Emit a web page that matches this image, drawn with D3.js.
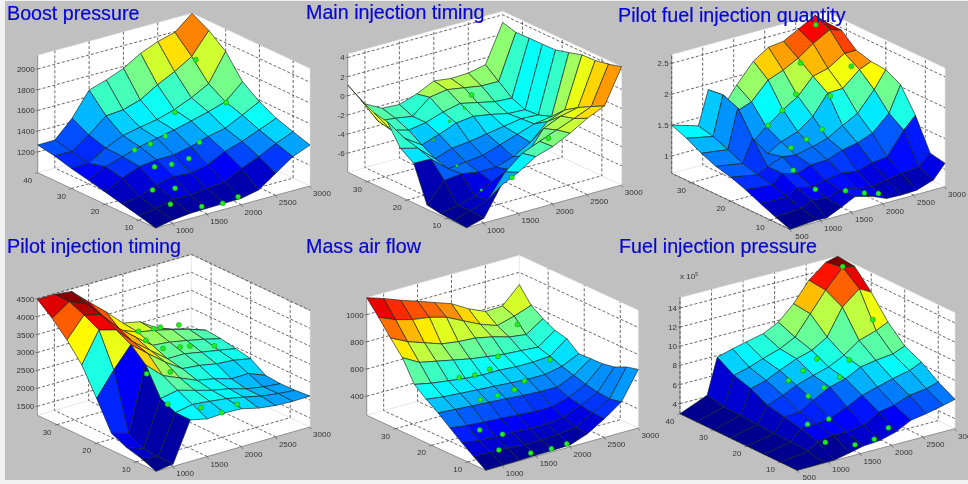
<!DOCTYPE html>
<html>
<head>
<meta charset="utf-8">
<style>
  html, body { margin: 0; padding: 0; background: #f2f2f2; }
  svg { display: block; filter: blur(0.3px); }
  text { font-family: "Liberation Sans", Arial, sans-serif; }
  .title { font-size: 19.7px; fill: #0606d2; stroke: #0606d2; stroke-width: 0.2; }
  .tick-label { font-size: 8px; fill: #333333; }
</style>
<script src="https://cdn.jsdelivr.net/npm/d3@7"></script>
</head>
<body>
<svg id="chart"></svg>
<script>
const WIDTH = 968;
const HEIGHT = 484;

const rpmFrom750 = [750, 1000, 1250, 1500, 1750, 2000, 2250, 2500, 2750, 3000];
const rpmFrom500 = [500, 930, 1090, 1333, 1548, 1817, 2059, 2301, 2543, 2812, 3000];
const load8 = [5, 10, 15, 20, 25, 30, 35, 40];
const load9 = [5, 8.75, 12.5, 16.25, 20, 23.75, 27.5, 31.25, 35];
const load10 = [5, 8.33, 11.67, 15, 18.33, 21.67, 25, 28.33, 31.67, 35];
const load11 = [5, 8.3, 11.6, 14.9, 18.2, 21.5, 24.8, 28.1, 31.4, 34.7, 38];

const rpmTicks = [1000, 1500, 2000, 2500, 3000];
const rpmTicksFrom500 = [500, 1000, 1500, 2000, 2500, 3000];
const loadTicks40 = [10, 20, 30, 40];
const loadTicks30 = [10, 20, 30];

// rows go from low load to high load, columns from low rpm to high rpm
const boostPressure = [
  [1000, 1032, 1051, 1055, 1058, 1061, 1096, 1212, 1328, 1395],
  [1042, 1068, 1109, 1106, 1125, 1145, 1228, 1296, 1379, 1447],
  [1080, 1106, 1172, 1209, 1196, 1231, 1315, 1367, 1434, 1502],
  [1119, 1206, 1273, 1293, 1296, 1331, 1383, 1418, 1500, 1585],
  [1157, 1241, 1293, 1344, 1380, 1415, 1457, 1500, 1553, 1700],
  [1193, 1197, 1300, 1375, 1410, 1440, 1490, 1560, 1650, 1916],
  [1238, 1235, 1350, 1489, 1502, 1553, 1653, 1736, 1836, 2042],
  [1267, 1270, 1434, 1662, 1714, 1781, 1881, 1949, 1994, 2132]
];

const mainTiming = [
  [-8, -7.5, -4.6, -3.7, -2.56, -2, -1.1, -0.04, 0.76, 4.37],
  [-7.9, -7.36, -6.74, -4.3, -2.85, -2.1, -1.4, -0.7, 0.05, 3.98],
  [-7.8, -7.5, -7, -6, -5.2, -4.2, -1.9, -1.1, -0.7, 3.72],
  [-7.57, -5.5, -5.3, -5.6, -5.6, -5, -4, -2.3, -1.6, 3.67],
  [-3.85, -3.9, -5.4, -5.2, -5, -4.4, -3.8, -3.2, -2.92, 3.27],
  [-2.93, -3.4, -5, -4.4, -4.2, -3.9, -3.6, -3.3, -3.4, 2.9],
  [-0.8, -3, -4.2, -3.6, -2.9, -2.7, -3, -3.4, -3.5, 2.86],
  [-0.5, -2.8, -3.3, -3, -2.4, -2, -2.4, -2.8, -2.93, 2.85],
  [0.2, -2.5, -2.7, -3, -1.5, -1.2, -1.5, -1.8, -1.83, 2.8],
  [1.13, -1.34, -2.3, -2.4, -1.8, -0.93, -1.17, -1.1, -0.73, 3.2]
];

const pilotQuantity = [
  [0.72, 0.75, 0.74, 0.85, 0.96, 0.89, 0.79, 0.78, 0.79, 0.88, 1.1],
  [0.81, 0.83, 0.92, 0.88, 0.95, 0.91, 0.87, 0.91, 0.95, 0.98, 1.15],
  [0.91, 0.9, 1, 0.95, 1, 1.04, 1, 1.07, 1.1, 1.46, 1.65],
  [1.02, 0.98, 1.12, 1.05, 1.13, 1.14, 1.23, 1.28, 1.37, 1.62, 2.03],
  [1.11, 1.03, 1.12, 1.21, 1.18, 1.24, 1.31, 1.45, 1.58, 1.89, 2.16],
  [1.17, 1.1, 1.46, 1.15, 1.28, 1.37, 1.55, 1.86, 1.87, 2.1, 2.18],
  [1.27, 1.21, 1.84, 1.22, 1.41, 1.61, 1.76, 2.02, 2.08, 2.25, 2.25],
  [1.4, 1.31, 1.94, 1.62, 1.7, 1.98, 2.07, 2.2, 2.37, 2.52, 2.46],
  [1.5, 1.37, 1.91, 1.57, 1.86, 2.17, 2.33, 2.36, 2.49, 2.64, 2.47]
];

const pilotTiming = [
  [1250, 1315, 2405, 2299, 2325, 2308, 2188, 2123, 2104, 2113],
  [1417, 1324, 2414, 2504, 2455, 2392, 2299, 2188, 2123, 2076],
  [1528, 1361, 2609, 2704, 2566, 2429, 2336, 2197, 2114, 2067],
  [1724, 1584, 3352, 2920, 2716, 2513, 2420, 2281, 2290, 2104],
  [2500, 3153, 3723, 3335, 2965, 2643, 2596, 2503, 2466, 2373],
  [3237, 4073, 3940, 3467, 3096, 2726, 2726, 2633, 2550, 2457],
  [3738, 4295, 4169, 3660, 3271, 2903, 2856, 2763, 2661, 2540],
  [4147, 4472, 4279, 3772, 3262, 3079, 2986, 2875, 2745, 2578],
  [4481, 4481, 4427, 4000, 3590, 3135, 3033, 2720, 2550, 2410]
];

const massAirFlow = [
  [260, 262, 265, 268, 270, 275, 321, 397, 485, 691],
  [320, 320, 312, 303, 303, 312, 329, 400, 468, 668],
  [381, 364, 355, 355, 347, 347, 364, 415, 476, 628],
  [450, 433, 424, 416, 407, 398, 398, 433, 494, 611],
  [520, 511, 502, 494, 485, 476, 468, 468, 520, 608],
  [580, 563, 554, 545, 537, 528, 520, 520, 545, 604],
  [649, 623, 606, 589, 580, 580, 571, 571, 580, 674],
  [805, 736, 710, 684, 658, 640, 623, 615, 606, 695],
  [909, 848, 805, 762, 744, 736, 710, 675, 658, 740],
  [1021, 969, 935, 917, 883, 822, 762, 718, 753, 798],
  [1125, 1084, 1037, 995, 951, 908, 836, 782, 787, 910]
];

const fuelPressure = [
  [2.95, 3, 3, 3.33, 3.67, 3.79, 4.24, 5.04, 5.31, 5.71, 6.02],
  [2.95, 3.34, 4.03, 4.31, 4.29, 4.52, 5.48, 5.76, 6.38, 6.61, 6.98],
  [2.95, 3.47, 4.58, 4.68, 4.83, 5.58, 6.38, 6.83, 7.28, 7.67, 8.22],
  [2.95, 3.5, 4.95, 5.05, 5.91, 6.82, 7.27, 8.07, 8.35, 8.55, 9.05],
  [2.95, 3.59, 5.32, 5.95, 6.62, 7.2, 7.65, 8.45, 9.58, 10.15, 10.72],
  [2.95, 3.72, 6.23, 6.67, 7.34, 8.09, 8.54, 9.52, 12.22, 13.67, 13],
  [2.95, 3.75, 6.77, 7.2, 7.72, 8.29, 9.08, 11.1, 13.15, 15.07, 14.87],
  [2.95, 4.12, 7.83, 8.28, 8.62, 9.02, 9.81, 11.31, 13.35, 14.76, 15.07]
];

// measured operating points, the same sixteen in every plot
const pointRpm = [1510, 1815, 2040, 1210, 1450, 1220, 1470, 1720, 1970, 1450, 1680, 1900, 2200, 2260, 2760, 2760];
const pointLoad = [6.8, 6.8, 6.8, 10, 13.5, 15.5, 20, 20, 20, 25.5, 25.5, 25.5, 21.5, 30, 25, 34];

// null: the point is hidden behind the surface
const boostPoints = [1042, 1019, 1042, 1071, 1129, 1122, 1232, 1212, 1222, 1315, 1331, 1367, 1315, 1463, 1543, 1820];
const mainPoints = [-4.6, null, -1.55, null, -7.1, null, -5.84, null, null, -4.17, -2.7, -1.73, null, -1.94, null, null];
const quantityPoints = [1.01, 0.89, 0.82, null, 0.85, 1.16, 1.32, 1.39, 1.48, 1.52, 1.7, 1.9, 1.91, 2.17, 2.13, 2.53];
const timingPoints = [2513, 2206, 2318, 2606, 3191, 3163, 3720, 3358, 3265, null, 3571, 3525, 3088, 3135, 2606, 2717];
const airPoints = [260, 250, 255, 285, 324, 363, 495, 493, 500, 592, 581, 593, 514, 583, 549, 699];
const fuelPoints = [3.57, 3.61, 4.41, 3.79, 5.22, 4.73, 6.49, 6.95, 7.6, 7.23, 7.84, 8.71, 8.73, null, 11.38, 15.42];

const panels = [
  {
    title: "Boost pressure", titleAt: [7, 20],
    left: [37.7, 172.7], front: [155.7, 228], right: [310, 186], pxPerUnit: 0.1037,
    rpm: rpmFrom750, load: load8, values: boostPressure, points: boostPoints,
    xDomain: [750, 3000], yDomain: [5, 40], zDomain: [1000, 2132], colourDomain: [1030, 2132],
    xTicks: rpmTicks, yTicks: loadTicks40, zTicks: [1200, 1400, 1600, 1800, 2000]
  },
  {
    title: "Main injection timing", titleAt: [306, 19],
    left: [347.7, 172.3], front: [466.7, 227.7], right: [621.7, 185], pxPerUnit: 9.567,
    rpm: rpmFrom750, load: load10, values: mainTiming, points: mainPoints,
    xDomain: [750, 3000], yDomain: [5, 35], zDomain: [-8, 4.37],
    xTicks: rpmTicks, yTicks: loadTicks30, zTicks: [-6, -4, -2, 0, 2, 4], smallPoints: [4, 6, 9, 10, 11]
  },
  {
    title: "Pilot fuel injection quantity", titleAt: [618, 22],
    left: [671.7, 173.3], front: [790, 229.3], right: [945, 186.7], pxPerUnit: 61.77,
    rpm: rpmFrom500, load: load9, values: pilotQuantity, points: quantityPoints,
    xDomain: [500, 3000], yDomain: [5, 35], zDomain: [0.72, 2.64],
    xTicks: rpmTicksFrom500, yTicks: loadTicks30, zTicks: [1, 1.5, 2, 2.5]
  },
  {
    title: "Pilot injection timing", titleAt: [7, 253],
    left: [37.3, 415.3], front: [156, 471.3], right: [310, 427], pxPerUnit: 0.0359,
    rpm: rpmFrom750, load: load9, values: pilotTiming, points: timingPoints,
    xDomain: [750, 3000], yDomain: [5, 35], zDomain: [1250, 4481],
    xTicks: rpmTicks, yTicks: loadTicks30, zTicks: [1500, 2000, 2500, 3000, 3500, 4000, 4500]
  },
  {
    title: "Mass air flow", titleAt: [306, 253],
    left: [366.7, 415.3], front: [485.7, 470.3], right: [638.3, 428], pxPerUnit: 0.136,
    rpm: rpmFrom750, load: load11, values: massAirFlow, points: airPoints,
    xDomain: [750, 3000], yDomain: [5, 38], zDomain: [260, 1125],
    xTicks: rpmTicks, yTicks: loadTicks30, zTicks: [400, 600, 800, 1000]
  },
  {
    title: "Fuel injection pressure", titleAt: [619, 253],
    left: [680, 413.7], front: [797.3, 470.3], right: [955, 428.7], pxPerUnit: 9.567,
    rpm: rpmFrom500, load: load8, values: fuelPressure, points: fuelPoints,
    xDomain: [500, 3000], yDomain: [5, 40], zDomain: [2.95, 15.07],
    xTicks: rpmTicksFrom500, yTicks: loadTicks40, zTicks: [4, 6, 8, 10, 12, 14], multiplier: true
  }
];

const jet = d3
  .scaleLinear()
  .domain([0, 0.11, 0.36, 0.61, 0.86, 1])
  .range(["#00008f", "#0000ff", "#00ffff", "#ffff00", "#ff0000", "#800000"])
  .clamp(true);

const makeProjection = function(panel) {
  const x = d3.scaleLinear().domain(panel.xDomain).range([0, 1]);
  const y = d3.scaleLinear().domain(panel.yDomain).range([0, 1]);
  const zTop = (panel.zDomain[1] - panel.zDomain[0]) * panel.pxPerUnit;
  const z = d3.scaleLinear().domain(panel.zDomain).range([0, zTop]);
  const [fx, fy] = panel.front;
  const xVec = [panel.right[0] - fx, panel.right[1] - fy];
  const yVec = [panel.left[0] - fx, panel.left[1] - fy];
  return function(rpm, load, value) {
    const u = x(rpm);
    const v = y(load);
    return [fx + u * xVec[0] + v * yVec[0], fy + u * xVec[1] + v * yVec[1] - z(value)];
  };
};

const drawBox = function(g, panel, project) {
  const [xMin, xMax] = panel.xDomain;
  const [yMin, yMax] = panel.yDomain;
  const [zMin, zMax] = panel.zDomain;
  const walls = [
    [[xMin, yMin, zMin], [xMax, yMin, zMin], [xMax, yMax, zMin], [xMin, yMax, zMin]],
    [[xMin, yMax, zMin], [xMax, yMax, zMin], [xMax, yMax, zMax], [xMin, yMax, zMax]],
    [[xMax, yMax, zMin], [xMax, yMin, zMin], [xMax, yMin, zMax], [xMax, yMax, zMax]]
  ];
  g.selectAll("polygon.wall")
    .data(walls)
    .enter()
    .append("polygon")
    .attr("class", "wall")
    .attr("points", d => d.map(p => project(...p).join(",")).join(" "))
    .attr("fill", "#ffffff")
    .attr("stroke", "#e4e4e4")
    .attr("stroke-width", 0.6);

  const gridLines = [];
  panel.xTicks.filter(t => t < xMax).forEach(t => {
    gridLines.push([[t, yMin, zMin], [t, yMax, zMin], [t, yMax, zMax]]);
  });
  panel.yTicks.filter(t => t < yMax).forEach(t => {
    gridLines.push([[xMin, t, zMin], [xMax, t, zMin], [xMax, t, zMax]]);
  });
  panel.zTicks.forEach(t => {
    gridLines.push([[xMin, yMax, t], [xMax, yMax, t], [xMax, yMin, t]]);
  });
  const line = d3.line();
  g.selectAll("path.grid")
    .data(gridLines)
    .enter()
    .append("path")
    .attr("class", "grid")
    .attr("d", d => line(d.map(p => project(...p))))
    .attr("fill", "none")
    .attr("stroke", "#2a2a2a")
    .attr("stroke-width", 0.7)
    .attr("stroke-dasharray", "3,2");
};

const drawAxes = function(g, panel, project) {
  const [xMin, xMax] = panel.xDomain;
  const [yMin, yMax] = panel.yDomain;
  const [zMin, zMax] = panel.zDomain;
  const edges = [
    [[xMin, yMin, zMin], [xMax, yMin, zMin]],
    [[xMin, yMin, zMin], [xMin, yMax, zMin]],
    [[xMin, yMax, zMin], [xMin, yMax, zMax]]
  ];
  const ticks = [];
  const labels = [];
  panel.xTicks.forEach(t => {
    const [px, py] = project(t, yMin, zMin);
    ticks.push([[px, py], [px + 1.2, py + 2.6]]);
    labels.push({ text: t, x: px + 12, y: py + 10, anchor: "middle" });
  });
  panel.yTicks.forEach(t => {
    const [px, py] = project(xMin, t, zMin);
    ticks.push([[px, py], [px - 2.6, py + 0.8]]);
    labels.push({ text: t, x: px - 10, y: py + 10, anchor: "middle" });
  });
  panel.zTicks.forEach(t => {
    const [px, py] = project(xMin, yMax, t);
    ticks.push([[px, py], [px - 2, py]]);
    labels.push({ text: t, x: px - 3, y: py + 3, anchor: "end" });
  });
  const line = d3.line();
  g.selectAll("path.edge")
    .data(edges.map(e => e.map(p => project(...p))).concat(ticks))
    .enter()
    .append("path")
    .attr("class", "edge")
    .attr("d", line)
    .attr("stroke", "#555555")
    .attr("stroke-width", 0.6);

  g.selectAll("text.tick-label")
    .data(labels)
    .enter()
    .append("text")
    .attr("class", "tick-label")
    .attr("x", d => d.x)
    .attr("y", d => d.y)
    .attr("text-anchor", d => d.anchor)
    .text(d => d.text);

  if (panel.multiplier) {
    const [px, py] = project(xMin, yMax, zMax);
    const label = g
      .append("text")
      .attr("class", "tick-label")
      .attr("x", px)
      .attr("y", py - 19)
      .text("x 10");
    label.append("tspan").attr("dy", -3).attr("font-size", 5).text("5");
  }
};

const drawSurface = function(g, panel, project) {
  const domain = panel.colourDomain || d3.extent(panel.values.flat());
  const colour = d3.scaleLinear().domain(domain).range([0, 1]);
  const cells = [];
  // painter's order: the high rpm, high load corner is the farthest one
  for (let i = panel.rpm.length - 2; i >= 0; i--) {
    for (let j = panel.load.length - 2; j >= 0; j--) {
      cells.push({ i, j, value: panel.values[j][i] });
    }
  }
  const corner = (i, j) => project(panel.rpm[i], panel.load[j], panel.values[j][i]).join(",");
  g.selectAll("polygon.cell")
    .data(cells)
    .enter()
    .append("polygon")
    .attr("class", "cell")
    .attr("points", d =>
      [corner(d.i, d.j), corner(d.i + 1, d.j), corner(d.i + 1, d.j + 1), corner(d.i, d.j + 1)].join(" ")
    )
    .attr("fill", d => jet(colour(d.value)))
    .attr("stroke", "#162222")
    .attr("stroke-width", 0.65)
    .attr("stroke-linejoin", "round");
};

const drawPoints = function(g, panel, project) {
  const small = panel.smallPoints || [];
  const points = panel.points
    .map((value, k) => ({ value, k, at: project(pointRpm[k], pointLoad[k], value) }))
    .filter(d => d.value !== null);
  g.selectAll("circle.point")
    .data(points)
    .enter()
    .append("circle")
    .attr("class", "point")
    .attr("cx", d => d.at[0])
    .attr("cy", d => d.at[1])
    .attr("r", d => (small.includes(d.k) ? 1.3 : 2.5))
    .attr("fill", "#1ff01f")
    .attr("stroke", "#138a13")
    .attr("stroke-width", 0.5);
};

const main = function() {
  const svg = d3.select("#chart").attr("width", WIDTH).attr("height", HEIGHT);
  svg
    .append("rect")
    .attr("x", 5)
    .attr("y", 1)
    .attr("width", WIDTH - 5)
    .attr("height", 479)
    .attr("fill", "#c0c0c0");

  panels.forEach(panel => {
    const g = svg.append("g");
    const project = makeProjection(panel);
    drawBox(g, panel, project);
    drawAxes(g, panel, project);
    drawSurface(g, panel, project);
    drawPoints(g, panel, project);
  });

  svg
    .selectAll("text.title")
    .data(panels)
    .enter()
    .append("text")
    .attr("class", "title")
    .attr("x", d => d.titleAt[0])
    .attr("y", d => d.titleAt[1])
    .text(d => d.title);
};

window.onload = main;
</script>
</body>
</html>
